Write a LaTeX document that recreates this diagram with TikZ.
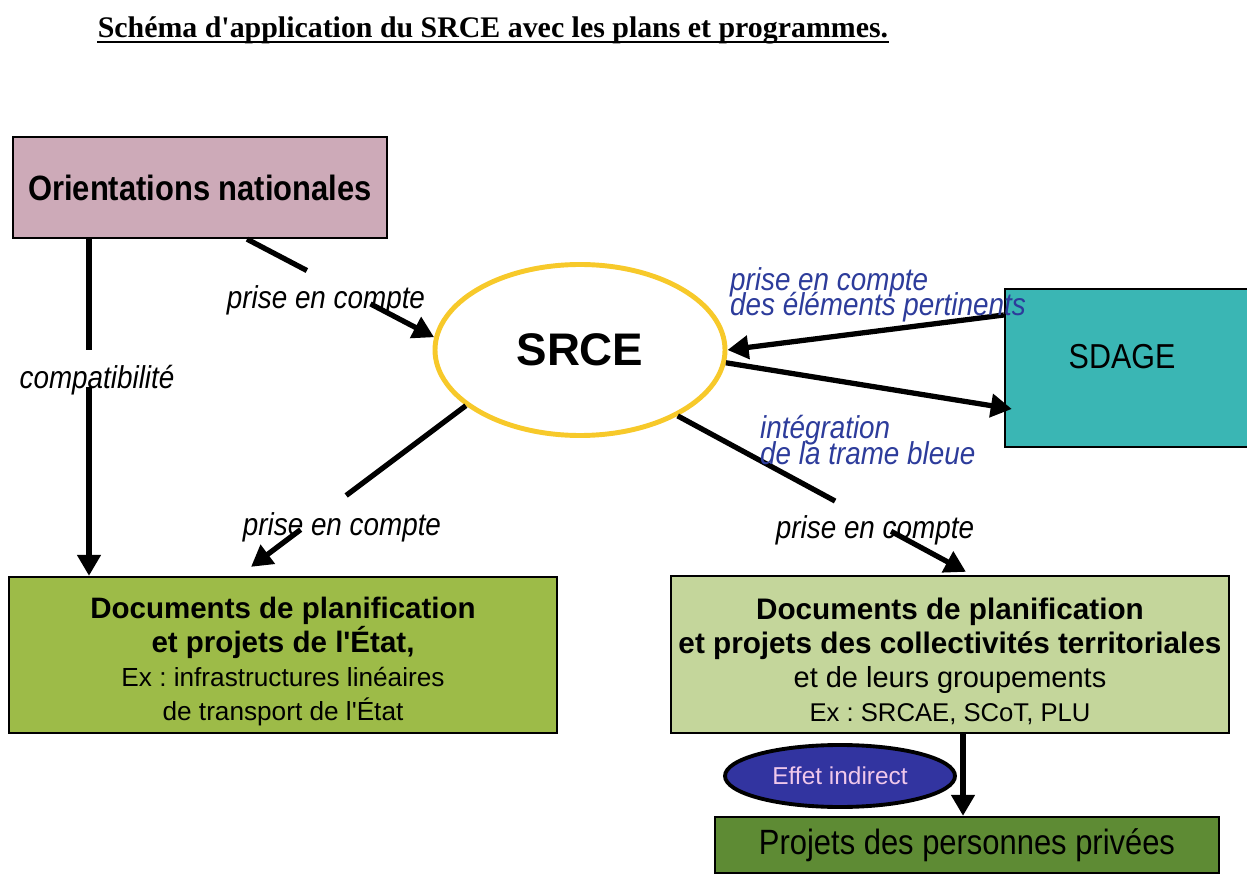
\documentclass[tikz,border=0pt]{standalone}
\usepackage{fontspec}
\setmainfont{Liberation Sans}
\newfontfamily\etroite{Liberation Sans}[FakeStretch=0.88]
\newfontfamily\titrefont{Liberation Serif}
\usetikzlibrary{shapes.geometric, arrows.meta, positioning, calc}
\frenchspacing

\definecolor{mauve}{RGB}{205,170,184}
\definecolor{jaune}{RGB}{247,201,42}
\definecolor{turquoise}{RGB}{58,182,180}
\definecolor{vertetat}{RGB}{157,187,72}
\definecolor{vertclair}{RGB}{196,214,155}
\definecolor{vertfonce}{RGB}{94,139,52}
\definecolor{bleufonce}{RGB}{50,52,160}
\definecolor{roseclair}{RGB}{240,200,235}
\definecolor{bleulien}{RGB}{45,60,155}

\begin{document}
\begin{tikzpicture}[
    boite/.style={draw, line width=1.3pt, align=center, inner sep=0pt},
    trait/.style={line width=3pt},
    fleche/.style={trait, -{Triangle[length=12pt, width=13pt]}},
    lien/.style={font=\etroite\fontsize{18}{21}\selectfont\itshape},
    bleu/.style={anchor=west, align=left, text=bleulien, font=\etroite\fontsize{18}{20.7}\selectfont\itshape},
]
\useasboundingbox (0,0) rectangle (24.94,-17.82);

% Title
\node[anchor=base, inner sep=0pt, font=\titrefont\bfseries\fontsize{17}{20}\selectfont] (titre) at (9.86,-0.76) {Schéma d\textquotesingle application du SRCE avec les plans et programmes.};
\draw[line width=1.5pt] ([yshift=-0.08cm]titre.base west) -- ([yshift=-0.08cm]titre.base east);

% Boxes
\node[boite, fill=mauve, minimum width=7.48cm, minimum height=2.02cm, font=\etroite\bfseries\fontsize{20}{24}\selectfont] (orient) at (4.00,-3.75) {Orientations nationales};
\node[ellipse, draw=jaune, line width=2.8pt, fill=white, minimum width=5.8cm, minimum height=3.42cm, font=\bfseries\fontsize{26}{30}\selectfont] (srce) at (11.60,-7.00) {SRCE};
\node[boite, fill=turquoise, minimum width=5.0cm, minimum height=3.16cm, text depth=0.45cm, font=\etroite\fontsize{19.7}{23}\selectfont] (sdage) at (22.60,-7.36) {SDAGE\hspace*{0.32cm}};
\node[boite, fill=vertetat, minimum width=10.96cm, minimum height=3.12cm, font=\fontsize{16}{19.4}\selectfont] (etat) at (5.66,-13.10) {\rule{0pt}{20pt}\bfseries\fontsize{16.8}{19.4}\selectfont Documents de planification\\ \bfseries\fontsize{16.8}{19.4}\selectfont et projets de l\textquotesingle État,\\ \normalfont\fontsize{14.9}{19.4}\selectfont Ex : infrastructures linéaires\\ \normalfont\fontsize{14.9}{19.4}\selectfont de transport de l\textquotesingle État};
\node[boite, fill=vertclair, minimum width=11.16cm, minimum height=3.14cm, font=\fontsize{16}{19.4}\selectfont] (coll) at (19.00,-13.09) {\rule{0pt}{20pt}\bfseries\fontsize{16.9}{19.4}\selectfont Documents de planification\\ \bfseries\fontsize{16.9}{19.4}\selectfont et projets des collectivités territoriales\\ \normalfont\fontsize{16.5}{19.4}\selectfont et de leurs groupements\\ \normalfont\fontsize{14.6}{19.4}\selectfont Ex : SRCAE, SCoT, PLU};
\node[boite, fill=vertfonce, minimum width=10.08cm, minimum height=1.12cm, font=\etroite\fontsize{20}{24}\selectfont] (prives) at (19.34,-16.90) {Projets des personnes privées};
\node[ellipse, draw, line width=2.2pt, fill=bleufonce, text=roseclair, minimum width=4.6cm, minimum height=1.24cm, inner sep=0pt, font=\fontsize{13.9}{16}\selectfont] (effet) at (16.80,-15.52) {Effet indirect};

% Connectors, cut where the labels sit
\path ([xshift=-2.22cm]orient.south) coordinate (o2) -- coordinate[pos=0.33] (c0a) coordinate[pos=0.44] (c0b) (o2 |- etat.north) coordinate (e0);
\draw[trait] (o2) -- (c0a);
\draw[fleche] (c0b) -- (e0);

\path ([xshift=0.94cm]orient.south) coordinate (o1) -- coordinate[pos=0.32] (c1a) coordinate[pos=0.66] (c1b) (srce.175) coordinate (s1);
\draw[trait] (o1) -- (c1a);
\draw[fleche] (c1b) -- (s1);

\path (srce.206) coordinate (s2) -- coordinate[pos=0.557] (c2a) coordinate[pos=0.769] (c2b) ([xshift=-0.64cm, yshift=0.18cm]etat.north) coordinate (e2);
\draw[trait] (s2) -- (c2a);
\draw[fleche] (c2b) -- (e2);

\path (srce.-34) coordinate (s3) -- coordinate[pos=0.546] (c3a) coordinate[pos=0.74] (c3b) ([xshift=0.32cm, yshift=0.06cm]coll.north) coordinate (e3);
\draw[trait] (s3) -- (c3a);
\draw[fleche] (c3b) -- (e3);

\draw[fleche] ([yshift=1.06cm]sdage.west) -- (srce.east);
\draw[fleche] (srce.-5) -- ([xshift=0.16cm, yshift=-0.82cm]sdage.west);
\draw[fleche] ([xshift=0.26cm]coll.south) coordinate (c4) -- (c4 |- prives.north);

% Labels
\node[lien] (pc1) at (6.52,-6.00) {prise en compte};
\node[lien] (compat) at (1.94,-7.60) {compatibilité};
\node[lien] (pc2) at (6.84,-10.54) {prise en compte};
\node[lien] (pc3) at (17.50,-10.60) {prise en compte};
\node[bleu] (pc4) at (14.48,-5.90) {prise en compte\\[-6.5pt]des éléments pertinents};
\node[bleu] (integ) at (15.08,-8.80) {intégration\\[-6pt]de la trame bleue};

\end{tikzpicture}
\end{document}
